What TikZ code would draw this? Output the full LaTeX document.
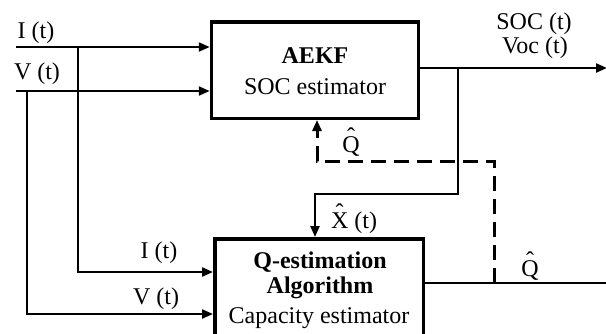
\documentclass[tikz,border=0pt]{standalone}
\usepackage{fontspec}
\setmainfont{Liberation Serif}
\usetikzlibrary{arrows.meta}
\newcommand\hatq[1]{\ooalign{#1\cr\hidewidth\raisebox{0.3em}{\char"02C6}\hidewidth\cr}}
\begin{document}
\begin{tikzpicture}[x=1pt,y=-1pt,
  box/.style={draw, line width=3.5pt, inner sep=0pt},
  wire/.style={line width=2.2pt},
  sig/.style={wire,-{Triangle[length=11pt,width=9pt]}},
  dsh/.style={line width=3pt, dash pattern=on 15pt off 8pt,-{Triangle[length=11pt,width=9pt]}},
  lbl/.style={font=\fontsize{24}{28}\selectfont, inner sep=0pt, anchor=base},
]
\useasboundingbox (0,0) rectangle (606,333);
\node[box, minimum width=207pt, minimum height=96.5pt] (aekf) at (315,70) {};
\node[box, minimum width=208.5pt, minimum height=110pt] (qalg) at (319,293.75) {};
% inputs
\coordinate (iin) at (16,47);
\coordinate (vin) at (16,91);
\coordinate (ij) at (78,47);
\coordinate (vj) at (27,91);
\coordinate (ilow) at (78,272);
\coordinate (vlow) at (27,314);
\draw[sig] (iin) -- (iin -| aekf.west);
\draw[sig] (vin) -- (vin -| aekf.west);
\draw[sig] (ij) -- (ilow) -- (ilow -| qalg.west);
\draw[sig] (vj) -- (vlow) -- (vlow -| qalg.west);
% outputs
\coordinate (oend) at (607,68);
\draw[sig] (aekf.east |- oend) -- (oend);
\coordinate (bj) at (458,68);
\coordinate (bk) at (458,194);
\coordinate (xa) at (315,194);
\draw[sig] (bj) -- (bk) -- (xa) -- (xa |- qalg.north);
\coordinate (qend) at (606,283);
\draw[wire] (qalg.east |- qend) -- (qend);
\coordinate (da) at (494,283);
\coordinate (db) at (494,161);
\coordinate (dc) at (317,161);
\draw[dsh] (da) -- (db) -- (dc) -- (dc |- aekf.south);
% labels
\node[lbl] (li) at (36,38) {I (t)};
\node[lbl] (lv) at (37,79) {V (t)};
\node[lbl] (t1) at (315,63) {\textbf{AEKF}};
\node[lbl] (t2) at (315,94) {SOC estimator};
\node[lbl] (lsoc) at (534,29) {SOC (t)};
\node[lbl] (lvoc) at (535,53) {Voc (t)};
\node[lbl] (lq1) at (351,152) {\hatq{Q}};
\node[lbl] (lx) at (354,228) {\hatq{X} (t)};
\node[lbl] (li2) at (159,258) {I (t)};
\node[lbl] (lv2) at (156,304) {V (t)};
\node[lbl] (lq2) at (530,276) {\hatq{Q}};
\node[lbl] (b1) at (320,268) {\textbf{Q-estimation}};
\node[lbl] (b2) at (320,293) {\textbf{Algorithm}};
\node[lbl] (b3) at (319,323) {Capacity estimator};
\end{tikzpicture}
\end{document}
